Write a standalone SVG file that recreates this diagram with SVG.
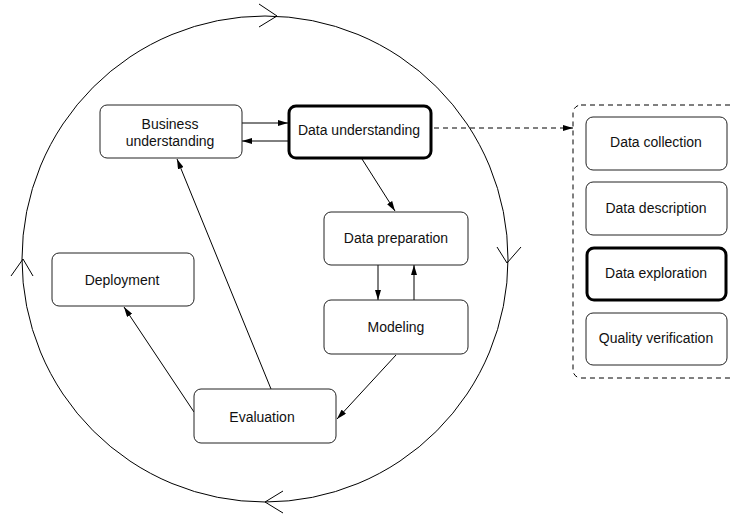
<svg xmlns="http://www.w3.org/2000/svg" width="730" height="514" viewBox="0 0 730 514">
  <style>
    .box { fill: #fff; stroke: #222; stroke-width: 1; }
    .focus { fill: #fff; stroke: #000; stroke-width: 3; }
    .lbl { font-family: "Liberation Sans", Arial, sans-serif; font-size: 14px; fill: #111; text-anchor: middle; }
    .edge { stroke: #000; stroke-width: 1; fill: none; }
    .dash { stroke: #000; stroke-width: 1; fill: none; stroke-dasharray: 5 4; }
    .cycle { stroke: #000; stroke-width: 1; fill: none; }
  </style>
  <defs>
    <marker id="head" viewBox="0 0 10 6" refX="10" refY="3" markerWidth="10" markerHeight="6" markerUnits="userSpaceOnUse" orient="auto">
      <path d="M0,0 L10,3 L0,6 Z" fill="#000"/>
    </marker>
  </defs>

  <!-- outer process cycle with open chevrons -->
  <g id="cycle">
    <circle class="cycle" cx="265" cy="259" r="243"/>
    <polyline class="cycle" points="259,4 277,16 259,27"/>
    <polyline class="cycle" points="497,247 507,263 521,247"/>
    <polyline class="cycle" points="283,491 265,502 283,513"/>
    <polyline class="cycle" points="11,276 23,259 33,276"/>
  </g>

  <!-- connectors -->
  <g id="connectors">
    <line class="edge" x1="242" y1="123" x2="288" y2="123" marker-end="url(#head)"/>
    <line class="edge" x1="288" y1="141" x2="242" y2="141" marker-end="url(#head)"/>
    <line class="edge" x1="362" y1="159" x2="395" y2="211" marker-end="url(#head)"/>
    <line class="edge" x1="378" y1="265" x2="378" y2="300" marker-end="url(#head)"/>
    <line class="edge" x1="414" y1="300" x2="414" y2="265" marker-end="url(#head)"/>
    <line class="edge" x1="396" y1="355" x2="337" y2="419" marker-end="url(#head)"/>
    <line class="edge" x1="271" y1="389" x2="177" y2="159" marker-end="url(#head)"/>
    <line class="edge" x1="194" y1="412" x2="124" y2="307" marker-end="url(#head)"/>
    <line class="dash" x1="434" y1="128" x2="573" y2="128" marker-end="url(#head)"/>
  </g>

  <!-- phase nodes -->
  <g id="business-understanding">
    <rect class="box" x="100" y="105" width="142" height="53" rx="7"/>
    <text class="lbl" x="170" y="129">Business</text>
    <text class="lbl" x="170" y="146">understanding</text>
  </g>
  <g id="data-understanding">
    <rect class="focus" x="289" y="106" width="142" height="52" rx="7"/>
    <text class="lbl" x="359" y="135">Data understanding</text>
  </g>
  <g id="data-preparation">
    <rect class="box" x="324" y="212" width="144" height="53" rx="7"/>
    <text class="lbl" x="396" y="243">Data preparation</text>
  </g>
  <g id="modeling">
    <rect class="box" x="324" y="300" width="144" height="54" rx="7"/>
    <text class="lbl" x="396" y="332">Modeling</text>
  </g>
  <g id="deployment">
    <rect class="box" x="52" y="253" width="142" height="53" rx="7"/>
    <text class="lbl" x="122" y="285">Deployment</text>
  </g>
  <g id="evaluation">
    <rect class="box" x="194" y="389" width="142" height="54" rx="7"/>
    <text class="lbl" x="262" y="422">Evaluation</text>
  </g>

  <!-- data understanding sub-tasks -->
  <g id="subtasks">
    <rect class="dash" x="573" y="105" width="170" height="273" rx="8"/>
  </g>
  <g id="data-collection">
    <rect class="box" x="586" y="117" width="141" height="53" rx="7"/>
    <text class="lbl" x="656" y="147">Data collection</text>
  </g>
  <g id="data-description">
    <rect class="box" x="586" y="182" width="141" height="53" rx="7"/>
    <text class="lbl" x="656" y="213">Data description</text>
  </g>
  <g id="data-exploration">
    <rect class="focus" x="587" y="248" width="139" height="52" rx="7"/>
    <text class="lbl" x="656" y="278">Data exploration</text>
  </g>
  <g id="quality-verification">
    <rect class="box" x="586" y="313" width="141" height="52" rx="7"/>
    <text class="lbl" x="656" y="343">Quality verification</text>
  </g>
</svg>
